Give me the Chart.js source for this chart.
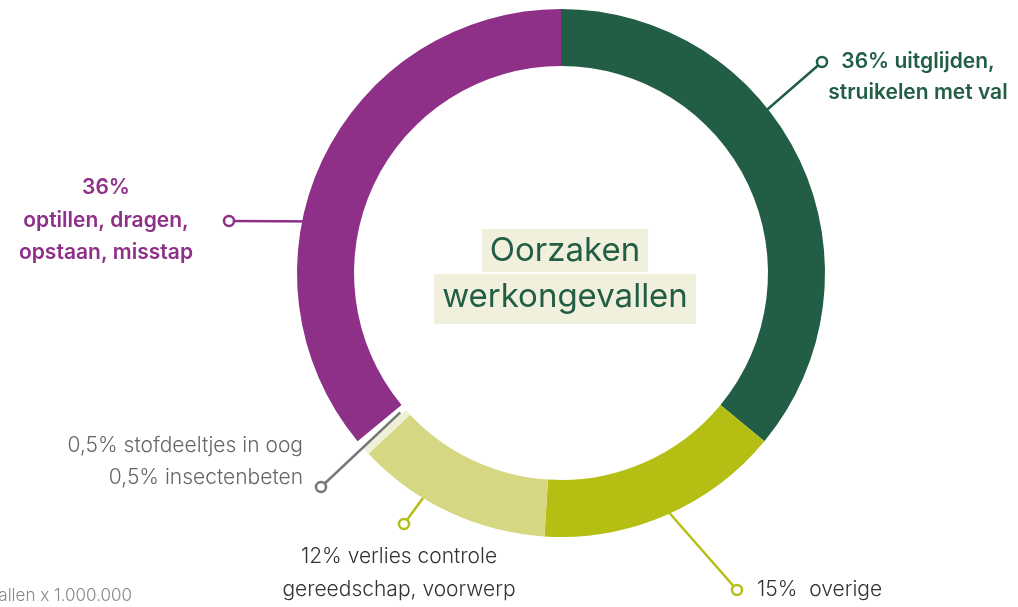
<!DOCTYPE html>
<html>
<head>
<meta charset="utf-8">
<script src="https://cdn.jsdelivr.net/npm/chart.js@4/dist/chart.umd.min.js"></script>
<style>
  html, body { margin: 0; padding: 0; background: #fff; }
  #wrap { width: 1018px; height: 607px; }
</style>
</head>
<body>
<div id="wrap"><canvas id="chart" width="1018" height="607"></canvas></div>
<script>
// oorzaken werkongevallen — donut
const categories = [
  "uitglijden, struikelen met val",
  "overige",
  "verlies controle gereedschap, voorwerp",
  "stofdeeltjes in oog",
  "insectenbeten",
  "optillen, dragen, opstaan, misstap",
];
const shares = [36, 15, 12, 0.5, 0.5, 36];
const sliceColors = ["#215e45", "#b5bf13", "#d5d782", "#eef0d8", "#ffffff", "#8e3088"];

const titleLines = ["Oorzaken", "werkongevallen"];
const footnote = "ongevallen x 1.000.000";

// leader lines + label blocks, one per slice that gets a label
const callouts = [
  { idx: 0, frac: 0.40, rf: 0.58, end: [822, 62], color: "#215e45",
    lines: ["36% uitglijden,", "struikelen met val"], tx: 918, ty: [62, 93], align: "center", weight: 600, tcolor: "#215e45" },
  { idx: 5, frac: 0.402, rf: 0.55, end: [229, 221], color: "#8e3088",
    lines: ["36%", "optillen, dragen,", "opstaan, misstap"], tx: 106, ty: [188, 221, 253], align: "center", weight: 600, tcolor: "#8e3088" },
  { idx: 1, frac: 0.517, rf: 0.55, end: [737, 590], color: "#b5bf13",
    lines: ["15%  overige"], tx: 757, ty: [590], align: "left", weight: 300, tcolor: "#333333" },
  { idx: 2, frac: 0.646, rf: 1.0, end: [404, 524], color: "#b5bf13",
    lines: ["12% verlies controle", "gereedschap, voorwerp"], tx: 399, ty: [557, 590], align: "center", weight: 300, tcolor: "#333333" },
  { idx: 4, frac: 0.25, rf: 0.1, end: [321, 487], color: "#777777",
    lines: ["0,5% stofdeeltjes in oog", "0,5% insectenbeten"], tx: 303, ty: [446, 478], align: "right", weight: 300, tcolor: "#666666" },
];

const FONT = "Inter, 'Noto Sans', sans-serif";

const calloutPlugin = {
  id: "callouts",
  afterDatasetsDraw(chart) {
    const ctx = chart.ctx;
    const arcs = chart.getDatasetMeta(0).data;
    ctx.save();
    for (const c of callouts) {
      const a = arcs[c.idx];
      const ang = a.startAngle + (a.endAngle - a.startAngle) * c.frac;
      const r = a.innerRadius + (a.outerRadius - a.innerRadius) * c.rf;
      const sx = a.x + Math.cos(ang) * r;
      const sy = a.y + Math.sin(ang) * r;
      ctx.strokeStyle = c.color;
      ctx.lineWidth = 2.5;
      ctx.beginPath();
      ctx.moveTo(sx, sy);
      ctx.lineTo(c.end[0], c.end[1]);
      ctx.stroke();
      ctx.beginPath();
      ctx.arc(c.end[0], c.end[1], 5, 0, Math.PI * 2);
      ctx.fillStyle = "#fff";
      ctx.fill();
      ctx.stroke();

      ctx.fillStyle = c.tcolor;
      ctx.font = `${c.weight} 21px ${FONT}`;
      ctx.textAlign = c.align;
      ctx.textBaseline = "middle";
      c.lines.forEach((t, i) => ctx.fillText(t, c.tx, c.ty[i]));
    }

    // centre title on pale boxes
    const cx = 565;
    ctx.font = `400 33px ${FONT}`;
    ctx.textAlign = "center";
    ctx.textBaseline = "middle";
    const boxes = [[229, 272, 251], [274, 324, 297]];
    titleLines.forEach((t, i) => {
      const w = ctx.measureText(t).width + 16;
      ctx.fillStyle = "#f1f0dc";
      ctx.fillRect(cx - w / 2, boxes[i][0], w, boxes[i][1] - boxes[i][0]);
    });
    titleLines.forEach((t, i) => {
      ctx.fillStyle = "#215e45";
      ctx.fillText(t, cx, boxes[i][2]);
    });

    // footnote, cut off at the left edge
    ctx.font = `300 17px ${FONT}`;
    ctx.fillStyle = "#888";
    ctx.textAlign = "right";
    ctx.fillText(footnote, 132, 596);
    ctx.restore();
  },
};

new Chart(document.getElementById("chart"), {
  type: "doughnut",
  data: {
    labels: categories,
    datasets: [{
      data: shares,
      backgroundColor: sliceColors,
      borderWidth: 0,
      hoverOffset: 0,
    }],
  },
  options: {
    responsive: false,
    animation: false,
    events: [],
    cutout: "78.4%",
    layout: { padding: { left: 297, right: 193, top: 9, bottom: 70 } },
    plugins: { legend: { display: false }, tooltip: { enabled: false } },
  },
  plugins: [calloutPlugin],
});
</script>
</body>
</html>
